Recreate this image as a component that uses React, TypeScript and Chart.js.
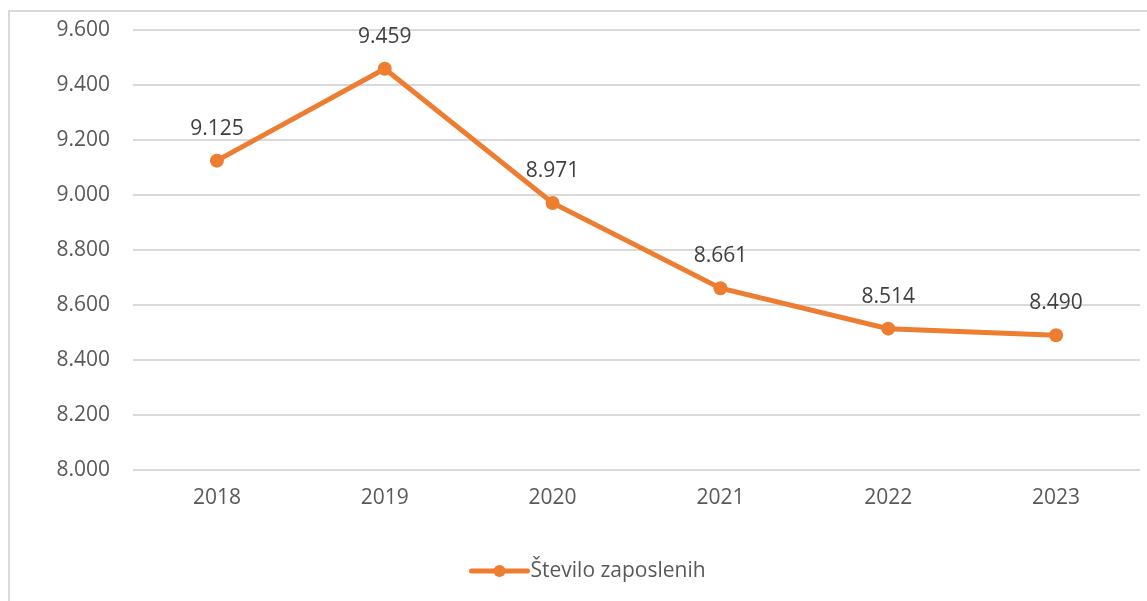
import React, { useEffect, useRef } from "react";
import { Chart, registerables } from "chart.js";

Chart.register(...registerables);

const categories: string[] = ["2018", "2019", "2020", "2021", "2022", "2023"];
const seriesName = "Število zaposlenih";
const employees: number[] = [9125, 9459, 8971, 8661, 8514, 8490];
const yMin = 8000;
const yMax = 9600;
const yStep = 200;

const ORANGE = "#ED7D31";
const FONT = "'Open Sans', 'DejaVu Sans', sans-serif";

const fmt = (v: number) => String(Math.round(v)).replace(/\B(?=(\d{3})+(?!\d))/g, ".");

const dataLabelPlugin = {
  id: "dataLabels",
  afterDatasetsDraw(chart: any) {
    const ctx = chart.ctx;
    const meta = chart.getDatasetMeta(0);
    const ds = chart.data.datasets[0];
    ctx.save();
    ctx.font = `21px ${FONT}`;
    ctx.fillStyle = "#404040";
    ctx.textAlign = "center";
    ctx.textBaseline = "middle";
    meta.data.forEach((pt: any, i: number) => {
      ctx.fillText(fmt(ds.data[i]), pt.x, pt.y - 32);
    });
    ctx.restore();
  },
};

const legendPlugin = {
  id: "customLegend",
  afterDraw(chart: any) {
    const ctx = chart.ctx;
    const ds = chart.data.datasets[0];
    const cy = chart.height - 30;
    const lineStart = chart.width / 2 - 102;
    const lineEnd = lineStart + 56;
    ctx.save();
    ctx.strokeStyle = ds.borderColor;
    ctx.lineWidth = 5;
    ctx.lineCap = "round";
    ctx.beginPath();
    ctx.moveTo(lineStart, cy);
    ctx.lineTo(lineEnd, cy);
    ctx.stroke();
    ctx.fillStyle = ds.borderColor;
    ctx.beginPath();
    ctx.arc((lineStart + lineEnd) / 2, cy, 6, 0, Math.PI * 2);
    ctx.fill();
    ctx.font = `21px ${FONT}`;
    ctx.fillStyle = "#595959";
    ctx.textAlign = "left";
    ctx.textBaseline = "middle";
    ctx.fillText(ds.label, lineEnd + 3, cy);
    ctx.restore();
  },
};

export default function App() {
  const canvasRef = useRef<HTMLCanvasElement | null>(null);

  useEffect(() => {
    const canvas = canvasRef.current;
    if (!canvas) return;
    const chart = new Chart(canvas, {
      type: "line",
      data: {
        labels: categories,
        datasets: [
          {
            label: seriesName,
            data: employees,
            borderColor: ORANGE,
            backgroundColor: ORANGE,
            borderWidth: 5,
            pointRadius: 7,
            pointBorderWidth: 0,
            pointBackgroundColor: ORANGE,
            tension: 0,
          },
        ],
      },
      options: {
        animation: false,
        responsive: false,
        maintainAspectRatio: false,
        devicePixelRatio: 1,
        layout: { padding: { top: 30, right: 4, left: 0, bottom: 31 } },
        plugins: {
          legend: { display: false },
          tooltip: { enabled: false },
        },
        scales: {
          x: {
            offset: true,
            grid: { display: false, drawTicks: false },
            border: { display: false },
            ticks: {
              color: "#595959",
              font: { family: FONT, size: 21 },
              padding: 15,
            },
            afterFit: (scale: any) => {
              scale.height = 100;
              scale.paddingLeft = 0;
              scale.paddingRight = 0;
            },
          },
          y: {
            min: yMin,
            max: yMax,
            grid: { color: "#d9d9d9", lineWidth: 2, drawTicks: false },
            border: { display: false },
            ticks: {
              stepSize: yStep,
              color: "#595959",
              font: { family: FONT, size: 21 },
              padding: 23,
              callback: (v: any) => fmt(Number(v)),
            },
            afterFit: (scale: any) => {
              scale.width = 133;
              scale.paddingTop = 0;
              scale.paddingBottom = 0;
            },
          },
        },
      },
      plugins: [dataLabelPlugin, legendPlugin],
    });
    return () => chart.destroy();
  }, []);

  return (
    <div
      style={{
        position: "fixed",
        left: 0,
        top: 0,
        width: 1147,
        height: 601,
        overflow: "hidden",
        background: "#ffffff",
      }}
    >
      <div
        style={{
          position: "absolute",
          left: 8,
          top: 10,
          width: 1200,
          height: 700,
          border: "2px solid #d9d9d9",
        }}
      />
      <canvas
        ref={canvasRef}
        width={1147}
        height={601}
        style={{ position: "absolute", left: 0, top: 0, width: 1147, height: 601 }}
      />
    </div>
  );
}
